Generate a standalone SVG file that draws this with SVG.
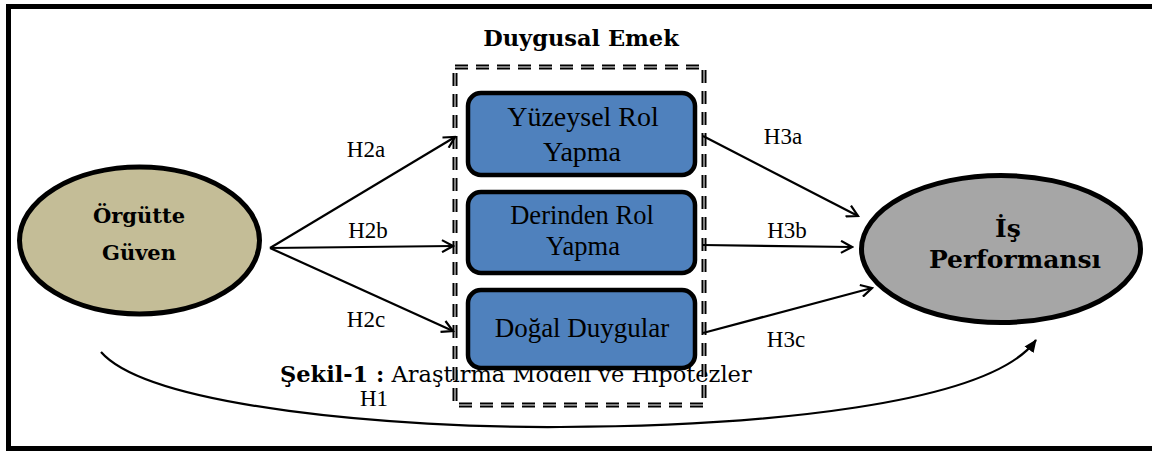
<svg xmlns="http://www.w3.org/2000/svg" width="1152" height="452" viewBox="0 0 1152 452">
<defs>
<style>
.frame{fill:none;stroke:#000;stroke-width:5}
.box{fill:#4F81BD;stroke:#000;stroke-width:4.5}
.conn{fill:none;stroke:#000;stroke-width:2.2}
.lbl{font-family:"Liberation Serif","Times New Roman",serif;font-size:23px;fill:#000;text-anchor:middle}
.tm{font-family:"Liberation Serif","Times New Roman",serif;fill:#000;text-anchor:middle}
.pb{font-family:"DejaVu Serif","Liberation Serif",serif;font-weight:bold;fill:#000;text-anchor:middle}
</style>
<marker id="open" viewBox="0 0 14 14" refX="12" refY="7" markerWidth="14" markerHeight="14" markerUnits="userSpaceOnUse" orient="auto">
<path d="M1,1 L12,7 L1,13" fill="none" stroke="#000" stroke-width="2.2"/>
</marker>
<marker id="solid" viewBox="0 0 14 14" refX="12" refY="7" markerWidth="14" markerHeight="14" markerUnits="userSpaceOnUse" orient="auto">
<path d="M0,1.5 L13,7 L0,12.5 Z" fill="#000"/>
</marker>
</defs>
<rect width="1152" height="452" fill="#fff"/>
<rect class="frame" x="8.5" y="6.5" width="1150" height="442"/>

<text x="280" y="382" style="font-family:'DejaVu Serif','Liberation Serif',serif;font-size:22.5px;fill:#000"><tspan font-weight="bold">Şekil-1 :</tspan> Araştırma Modeli ve Hipotezler</text>

<g id="duygusal-emek">
<text class="pb" x="581" y="46" font-size="22.5">Duygusal Emek</text>
<rect x="455" y="67" width="249" height="338" fill="none" stroke="#000" stroke-width="5" stroke-dasharray="13,8"/>
<rect x="455" y="67" width="249" height="338" fill="none" stroke="#fff" stroke-width="1" stroke-dasharray="13,8"/>
</g>

<g id="orgutte-guven">
<ellipse cx="139.5" cy="240.5" rx="120" ry="73.5" fill="#C4BD97" stroke="#000" stroke-width="5"/>
<text class="pb" x="139" y="223" font-size="21">Örgütte</text>
<text class="pb" x="139" y="260" font-size="21">Güven</text>
</g>

<g id="yuzeysel">
<rect class="box" x="468" y="93" width="227" height="82" rx="13"/>
<text class="tm" x="583" y="126" font-size="28">Yüzeysel Rol</text>
<text class="tm" x="582" y="161" font-size="28">Yapma</text>
</g>

<g id="derinden">
<rect class="box" x="468" y="192" width="227" height="81" rx="13"/>
<text class="tm" x="582" y="224" font-size="26.5">Derinden Rol</text>
<text class="tm" x="583" y="255" font-size="26.5">Yapma</text>
</g>

<g id="dogal">
<rect class="box" x="468" y="290" width="227" height="78" rx="13"/>
<text class="tm" x="582" y="337" font-size="27">Doğal Duygular</text>
</g>

<g id="is-performansi">
<ellipse cx="1001" cy="249" rx="139.5" ry="73.5" fill="#A6A6A6" stroke="#000" stroke-width="5"/>
<text class="pb" x="1008" y="237" font-size="25">İş</text>
<text class="pb" x="1015" y="268" font-size="25">Performansı</text>
</g>

<g id="connectors">
<line class="conn" x1="270" y1="248" x2="455" y2="137" marker-end="url(#open)"/>
<line class="conn" x1="270" y1="248" x2="453" y2="246" marker-end="url(#open)"/>
<line class="conn" x1="270" y1="248" x2="453" y2="331" marker-end="url(#open)"/>
<line class="conn" x1="703" y1="136" x2="858" y2="216" marker-end="url(#open)"/>
<line class="conn" x1="703" y1="245" x2="852" y2="247" marker-end="url(#open)"/>
<line class="conn" x1="703" y1="333" x2="872" y2="288" marker-end="url(#open)"/>
<path class="conn" d="M101,352 C150,408 400,428 560,427 C760,426 990,405 1036,340" marker-end="url(#solid)"/>
<text class="lbl" x="366" y="157">H2a</text>
<text class="lbl" x="368" y="238">H2b</text>
<text class="lbl" x="366" y="327">H2c</text>
<text class="lbl" x="783" y="144">H3a</text>
<text class="lbl" x="787" y="238">H3b</text>
<text class="lbl" x="786" y="347">H3c</text>
<text class="lbl" x="374" y="406">H1</text>
</g>
</svg>
